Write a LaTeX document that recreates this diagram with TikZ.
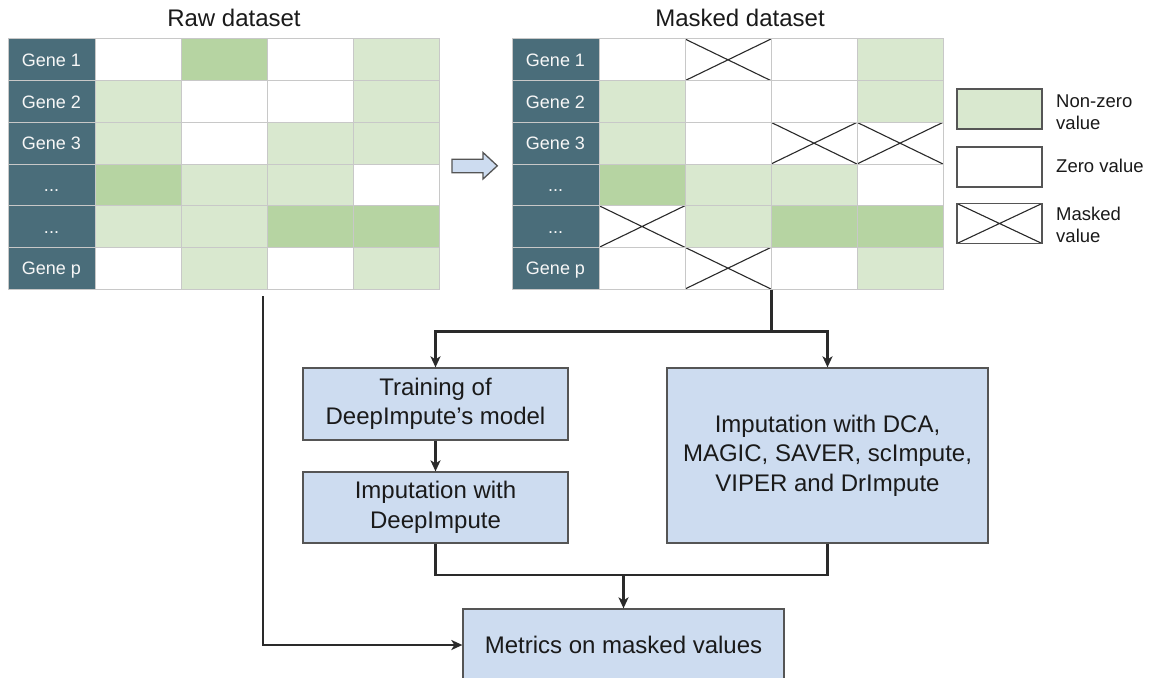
\documentclass[tikz,border=0pt]{standalone}
\usepackage{fontspec}
\setmainfont{Liberation Sans}
\usetikzlibrary{arrows.meta,calc}

\definecolor{genecol}{HTML}{4A6D7A}
\definecolor{gridgray}{HTML}{C8C8C8}
\definecolor{lgreen}{HTML}{D9E8CF}
\definecolor{dgreen}{HTML}{B6D4A2}
\definecolor{boxblue}{HTML}{CDDCF0}
\definecolor{edgegray}{HTML}{555555}
\definecolor{linecol}{HTML}{2A2A2A}
\definecolor{txt}{HTML}{1A1A1A}

% one row of a gene table: prefix, left x, row index, label, four cell styles
\newcommand\genegridrow[8]{%
  \pgfmathsetmacro\rowy{39+41.67*(#3-0.5)}
  \node[genelab] (#1-#3-0) at (#2+43.5,\rowy) {#4};
  \node[cell,#5] (#1-#3-1) at (#2+130,\rowy) {};
  \node[cell,#6] (#1-#3-2) at (#2+216,\rowy) {};
  \node[cell,#7] (#1-#3-3) at (#2+302,\rowy) {};
  \node[cell,#8] (#1-#3-4) at (#2+388,\rowy) {};
}

\begin{document}
\begin{tikzpicture}[x=1pt,y=-1pt,
  title/.style={font=\fontsize{24}{29}\selectfont, text=txt, inner sep=0},
  cell/.style={draw=gridgray, line width=1pt, minimum width=86pt, minimum height=41.67pt, inner sep=0pt},
  genelab/.style={cell, fill=genecol, minimum width=87pt, text=white!94!gray,
    font=\fontsize{18}{18}\selectfont, text height=13pt, text depth=0pt},
  cW/.style={fill=white},
  cL/.style={fill=lgreen},
  cD/.style={fill=dgreen},
  xline/.style={draw=linecol, line width=1.1pt},
  cX/.style={fill=white, path picture={
      \draw[xline] (path picture bounding box.north west) -- (path picture bounding box.south east)
                   (path picture bounding box.south west) -- (path picture bounding box.north east);}},
  legbox/.style={draw=edgegray, line width=1.4pt, minimum width=85pt, minimum height=40pt, inner sep=0pt},
  legtext/.style={anchor=west, align=left, inner sep=0pt, text=txt, font=\fontsize{18.5}{22}\selectfont},
  flowbox/.style={draw=edgegray, fill=boxblue, line width=1.3pt, inner sep=0pt, align=center,
    text=txt, font=\fontsize{24}{29.5}\selectfont},
  conn/.style={draw=linecol, line width=2.2pt},
  arr/.style={-{Stealth[length=11pt,width=10pt,inset=3pt]}},
]
\clip (0,0) rectangle (1153,677);
\fill[white] (0,0) rectangle (1153,677);

% titles
\node[title, anchor=base] (rawtitle) at (234,27) {Raw dataset};
\node[title, anchor=base] (msktitle) at (740,27) {Masked dataset};

% raw table
\genegridrow{raw}{8}{1}{Gene 1}{cW}{cD}{cW}{cL}
\genegridrow{raw}{8}{2}{Gene 2}{cL}{cW}{cW}{cL}
\genegridrow{raw}{8}{3}{Gene 3}{cL}{cW}{cL}{cL}
\genegridrow{raw}{8}{4}{...}{cD}{cL}{cL}{cW}
\genegridrow{raw}{8}{5}{...}{cL}{cL}{cD}{cD}
\genegridrow{raw}{8}{6}{Gene p}{cW}{cL}{cW}{cL}

% masked table
\genegridrow{msk}{512}{1}{Gene 1}{cW}{cX}{cW}{cL}
\genegridrow{msk}{512}{2}{Gene 2}{cL}{cW}{cW}{cL}
\genegridrow{msk}{512}{3}{Gene 3}{cL}{cW}{cX}{cX}
\genegridrow{msk}{512}{4}{...}{cD}{cL}{cL}{cW}
\genegridrow{msk}{512}{5}{...}{cX}{cL}{cD}{cD}
\genegridrow{msk}{512}{6}{Gene p}{cW}{cX}{cW}{cL}

% block arrow between the tables
\draw[fill=boxblue, draw=edgegray, line width=1.3pt, line join=miter]
  (452,159.3) -- (483,159.3) -- (483,152.5) -- (497.3,165.8) -- (483,179)
  -- (483,172.7) -- (452,172.7) -- cycle;

% legend
\node[legbox, cL] (legnz) at (999.5,109) {};
\node[legbox, cW] (legz) at (999.5,167) {};
\node[legbox, cX] (legm) at (999.5,223.5) {};
\node[legtext] (legnztext) at (1056,112) {Non-zero\\value};
\node[legtext] (legztext) at (1056,166) {Zero value};
\node[legtext] (legmtext) at (1056,225) {Masked\\value};

% processing steps
\node[flowbox, minimum width=265pt, minimum height=72pt] (train) at (435.5,404) {Training of\\DeepImpute’s model};
\node[flowbox, minimum width=265pt, minimum height=71pt] (impdi) at (435.5,507.5) {Imputation with\\DeepImpute};
\node[flowbox, minimum width=321pt, minimum height=175pt] (others) at (827.5,455.5)
  {Imputation with DCA,\\MAGIC, SAVER, scImpute,\\VIPER and DrImpute};
\node[flowbox, minimum width=321pt, minimum height=72pt] (metrics) at (623.5,645) {Metrics on masked values};

% connectors
\coordinate (rawout) at (263,296);
\draw[conn,arr] (rawout) |- (metrics.west);
\coordinate (split) at ($(msk-6-2.south east)+(0,42)$);
\draw[conn] (msk-6-2.south east) -- (split);
\draw[conn,arr] (split) -| (train.north);
\draw[conn,arr] (split) -| (others.north);
\draw[conn,arr] (train) -- (impdi);
\coordinate (merge) at ($(metrics.north)+(0,-33)$);
\draw[conn] (impdi.south) |- (merge) -| (others.south);
\draw[conn,arr] (merge) -- (metrics.north);
\end{tikzpicture}
\end{document}
